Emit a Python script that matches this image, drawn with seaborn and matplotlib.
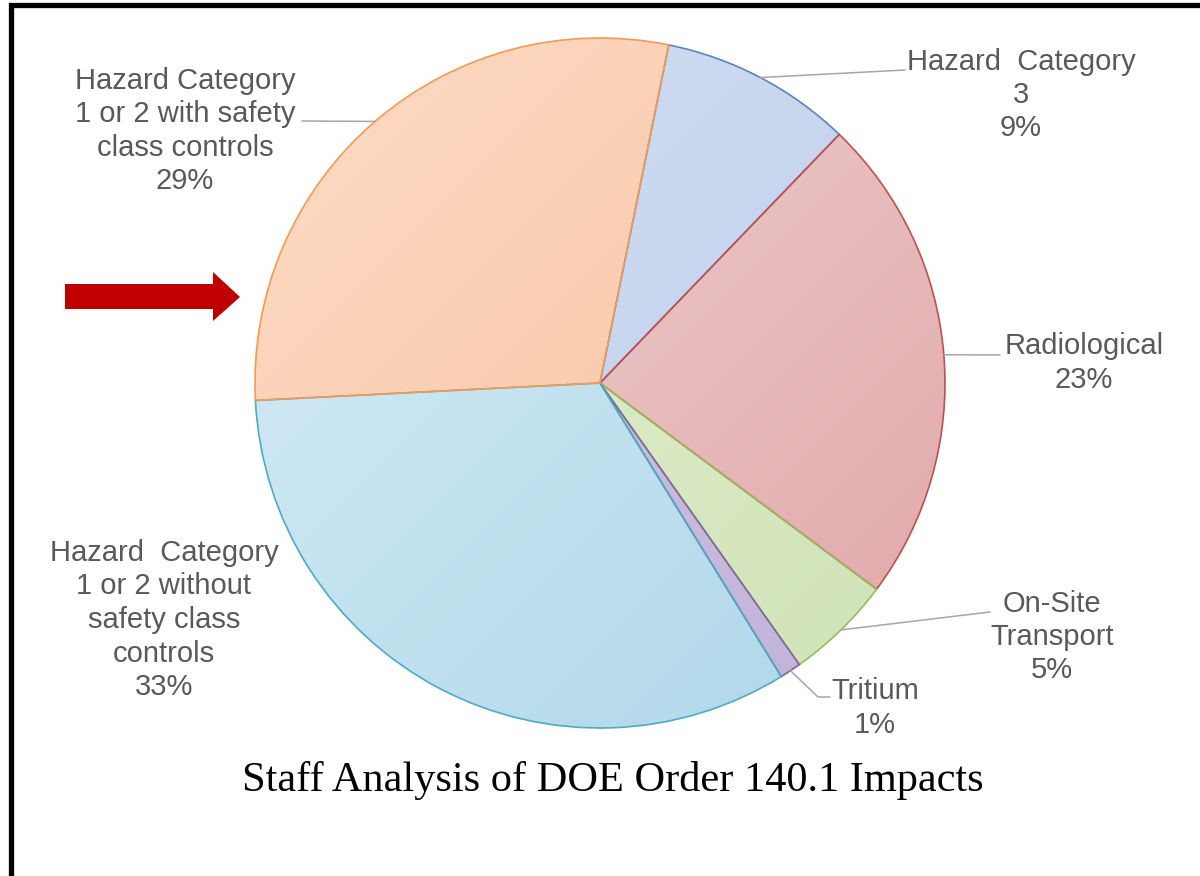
import numpy as np
import matplotlib.pyplot as plt
import seaborn as sns
from matplotlib.colors import to_rgb
from matplotlib.patches import Polygon
from matplotlib.lines import Line2D

# slices in clockwise order starting just right of 12 o'clock
categories = ["Hazard  Category\n3", "Radiological", "On-Site\nTransport", "Tritium",
              "Hazard  Category\n1 or 2 without\nsafety class\ncontrols",
              "Hazard Category\n1 or 2 with safety\nclass controls"]
shares = [9, 23, 5, 1, 33, 29]

light = ["#d6e1f3", "#f3d6d6", "#e6f1d6", "#d6cce6", "#d9eef7", "#fddcc6"]
dark = ["#b9cbe9", "#dfa6a8", "#cfe2b6", "#c0b0d8", "#acd5e8", "#f7bc98"]
edges = ["#5b83c4", "#c0504d", "#9bbb59", "#8064a2", "#4bacc6", "#f59a52"]

title = "Staff Analysis of DOE Order 140.1 Impacts"

sns.set_theme(style="white")
plt.rcParams["font.family"] = ["Liberation Sans", "DejaVu Sans"]

W, H = 1200, 876
fig = plt.figure(figsize=(12, 8.76), dpi=100)
ax = fig.add_axes([0, 0, 1, 1])
cx, cy, R = 600, H - 383, 345

wedges, _ = ax.pie(shares, startangle=78.5, counterclock=False, center=(cx, cy),
                   radius=R, colors=light, wedgeprops=dict(linewidth=1.2))

# diagonal gradient fill, clipped to each wedge
n = 300
g = np.linspace(0, 1, n)
U = (g[None, :] + g[:, None]) / 2
for w, lo, hi, ec in zip(wedges, light, dark, edges):
    img = (np.array(to_rgb(lo))[None, None, :] * (1 - U[..., None])
           + np.array(to_rgb(hi))[None, None, :] * U[..., None])
    im = ax.imshow(img, extent=[cx - R, cx + R, cy - R, cy + R], origin="upper",
                   zorder=1, interpolation="bilinear")
    im.set_clip_path(w)
    w.set_facecolor("none")
    w.set_edgecolor(ec)
    w.set_zorder(2)

# labels (pixel positions, y from top) and leader line paths
label_pos = [(1021, 95), (1084, 363), (1052, 637), (875, 708), (164, 620), (185, 131)]
leader_ends = [[(905, 70)], [(1000, 355)], [(990, 612)], [(818, 697), (830, 697)],
               None, [(302, 121)]]

for w, cat, v, (lx, ly), le in zip(wedges, categories, shares, label_pos, leader_ends):
    ax.text(lx, H - ly, f"{cat}\n{v}%", ha="center", va="center",
            multialignment="center", fontsize=21, color="#595959",
            linespacing=1.25, zorder=4)
    if le is None:
        continue
    mid = np.deg2rad((w.theta1 + w.theta2) / 2)
    xs = [cx + R * np.cos(mid)] + [p[0] for p in le]
    ys = [cy + R * np.sin(mid)] + [H - p[1] for p in le]
    ax.plot(xs, ys, color="#a6a6a6", lw=1.1, zorder=3)

ax.text(613, H - 780, title, ha="center", va="center", fontsize=30.5,
        family=["Liberation Serif", "DejaVu Serif"], color="black")

# red arrow pointing at the safety class controls slice
arrow_px = [(65, 284), (213, 284), (213, 272), (240, 297), (213, 321), (213, 309), (65, 309)]
ax.add_patch(Polygon([(x, H - y) for x, y in arrow_px], closed=True,
                     facecolor="#c00000", edgecolor="none", zorder=3))

ax.set_xlim(0, W)
ax.set_ylim(0, H)
ax.set_aspect("equal")
ax.axis("off")

# outer frame (only left and top edges visible)
fig.add_artist(Line2D([11 / W, 11 / W, 1], [0, 1 - 5 / H, 1 - 5 / H],
                      transform=fig.transFigure, color="black", lw=3.8,
                      solid_joinstyle="miter"))

fig.savefig("out.png", dpi=100)
